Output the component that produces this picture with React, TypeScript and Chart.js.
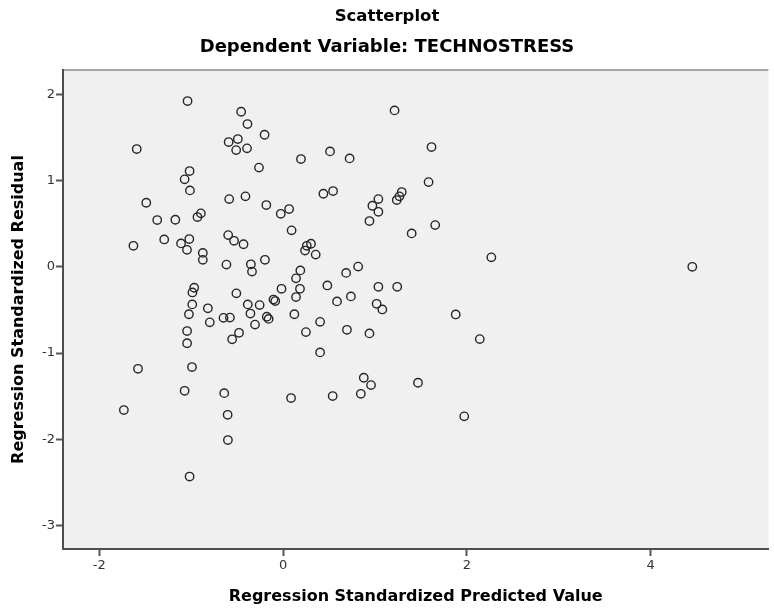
import React, { useEffect, useRef } from "react";
import { Chart, registerables } from "chart.js";

Chart.register(...registerables);

// Regression standardized predicted values (x)
const predicted: number[] = [
  -1.039, -0.456, -0.387, -1.592, -0.492, -0.592, -0.510, -0.392, -0.262, -1.017,
  -1.071, -1.013, -1.488, -0.586, -0.409, -1.369, -1.172, -0.894, -0.931, -1.628,
  -1.293, -1.110, -1.020, -1.045, -0.873, -0.873, -0.597, -0.533, -0.430, -0.616,
  -0.350, -0.338, -0.967, -0.986, -0.988, -1.024, -0.818, -0.797, -0.508, -0.384,
  -0.355, -0.255, -0.305, -0.648, -0.578, -0.479, -0.554, -1.044, -1.044, -1.578,
  -0.991, -1.071, -0.640, -0.603, -0.600, -1.732, -1.017, -0.201, 1.213, 1.615,
  0.511, 0.724, 0.195, 1.583, 0.439, 0.544, -0.182, -0.025, 0.066, 0.093,
  1.037, 0.972, 1.037, 0.940, 1.291, 1.266, 1.237, 1.399, 1.655, 0.304,
  0.258, 0.239, 0.355, -0.197, 0.188, 0.141, 0.686, 0.817, -0.017, 0.184,
  0.141, 0.482, 1.037, 1.242, 0.587, 0.738, 1.018, 1.080, -0.104, -0.085,
  -0.177, -0.157, 0.123, 0.403, 0.249, 0.695, 0.940, 0.403, 0.878, 0.957,
  0.846, 1.468, 0.087, 0.540, 2.266, 4.452, 1.878, 2.140, 1.971,
];

// Regression standardized residuals (y)
const residual: number[] = [
  1.920, 1.796, 1.654, 1.364, 1.480, 1.445, 1.352, 1.372, 1.149, 1.109,
  1.013, 0.885, 0.742, 0.784, 0.816, 0.541, 0.545, 0.619, 0.576, 0.243,
  0.317, 0.271, 0.321, 0.196, 0.161, 0.080, 0.367, 0.301, 0.261, 0.025,
  0.029, -0.056, -0.243, -0.297, -0.436, -0.550, -0.481, -0.644, -0.308, -0.436,
  -0.542, -0.444, -0.670, -0.592, -0.589, -0.765, -0.840, -0.745, -0.886, -1.182,
  -1.162, -1.437, -1.464, -1.715, -2.008, -1.660, -2.431, 1.530, 1.812, 1.387,
  1.337, 1.256, 1.248, 0.981, 0.846, 0.877, 0.715, 0.614, 0.669, 0.422,
  0.784, 0.707, 0.637, 0.530, 0.866, 0.816, 0.773, 0.387, 0.483, 0.267,
  0.243, 0.188, 0.141, 0.081, -0.042, -0.134, -0.071, 0.002, -0.255, -0.255,
  -0.351, -0.216, -0.232, -0.232, -0.401, -0.343, -0.429, -0.494, -0.380, -0.397,
  -0.579, -0.604, -0.550, -0.638, -0.757, -0.730, -0.772, -0.992, -1.286, -1.371,
  -1.472, -1.344, -1.521, -1.498, 0.109, 0.000, -0.552, -0.838, -1.733,
];

const xTicks: number[] = [-2, 0, 2, 4];
const yTicks: number[] = [-3, -2, -1, 0, 1, 2];

const titleText = "Scatterplot";
const subtitleText = "Dependent Variable: TECHNOSTRESS";
const xTitle = "Regression Standardized Predicted Value";
const yTitle = "Regression Standardized Residual";

const FONT = "'DejaVu Sans', Verdana, sans-serif";

const plotBackground = {
  id: "plotBackground",
  beforeDraw(chart: any) {
    const { ctx, chartArea } = chart;
    if (!chartArea) return;
    ctx.save();
    ctx.fillStyle = "#f0f0f0";
    ctx.fillRect(chartArea.left, chartArea.top, chartArea.right - chartArea.left, chartArea.bottom - chartArea.top);
    ctx.strokeStyle = "#8a8a8a";
    ctx.lineWidth = 1.5;
    ctx.beginPath();
    ctx.moveTo(chartArea.left, chartArea.top);
    ctx.lineTo(chartArea.right, chartArea.top);
    ctx.stroke();
    ctx.restore();
  },
};

export default function App() {
  const canvasRef = useRef<HTMLCanvasElement | null>(null);

  useEffect(() => {
    if (!canvasRef.current) return;
    const points = predicted.map((x, i) => ({ x, y: residual[i] }));
    const chart = new Chart(canvasRef.current, {
      type: "scatter",
      data: {
        datasets: [
          {
            data: points,
            pointStyle: "circle",
            pointRadius: 4.2,
            pointHoverRadius: 4.2,
            pointBorderWidth: 1.4,
            borderColor: "#262626",
            backgroundColor: "rgba(0,0,0,0)",
          },
        ],
      },
      options: {
        animation: false,
        responsive: false,
        devicePixelRatio: 1,
        layout: { padding: 0 },
        plugins: {
          legend: { display: false },
          tooltip: { enabled: false },
          title: {
            display: true,
            text: titleText,
            color: "#000",
            font: { family: FONT, size: 16.5, weight: "bold", lineHeight: 30 / 16.5 },
            padding: { top: 2, bottom: 0 },
          },
          subtitle: {
            display: true,
            text: subtitleText,
            color: "#000",
            font: { family: FONT, size: 18, weight: "bold", lineHeight: 30 / 18 },
            padding: { top: 0, bottom: 8 },
          },
        },
        scales: {
          x: {
            type: "linear",
            min: -2.394,
            max: 5.28,
            afterBuildTicks: (scale: any) => {
              scale.ticks = xTicks.map((value) => ({ value }));
            },
            afterFit: (scale: any) => {
              scale.height = 60;
            },
            grid: {
              drawOnChartArea: false,
              drawTicks: true,
              tickLength: 7,
              tickWidth: 2,
              tickColor: "#555",
            },
            border: { display: true, color: "#4d4d4d", width: 2 },
            ticks: {
              color: "#333",
              font: { family: FONT, size: 13 },
              padding: 2,
              maxRotation: 0,
            },
            title: {
              display: true,
              text: xTitle,
              color: "#000",
              font: { family: FONT, size: 16, weight: "bold" },
              padding: { top: 0, bottom: 3 },
            },
          },
          y: {
            type: "linear",
            min: -3.27,
            max: 2.28,
            afterBuildTicks: (scale: any) => {
              scale.ticks = yTicks.map((value) => ({ value }));
            },
            afterFit: (scale: any) => {
              scale.width = 63;
            },
            grid: {
              drawOnChartArea: false,
              drawTicks: true,
              tickLength: 7,
              tickWidth: 2,
              tickColor: "#555",
            },
            border: { display: true, color: "#4d4d4d", width: 2 },
            ticks: {
              color: "#333",
              font: { family: FONT, size: 13 },
              padding: 1,
            },
            title: {
              display: true,
              text: yTitle,
              color: "#000",
              font: { family: FONT, size: 16, weight: "bold" },
              padding: { top: 9, bottom: 0 },
            },
          },
        },
      },
      plugins: [plotBackground],
    });
    return () => chart.destroy();
  }, []);

  return (
    <div style={{ position: "absolute", left: 0, top: 0, width: 774, height: 609, background: "#fff" }}>
      <canvas ref={canvasRef} width={774} height={609} style={{ display: "block" }} />
    </div>
  );
}
